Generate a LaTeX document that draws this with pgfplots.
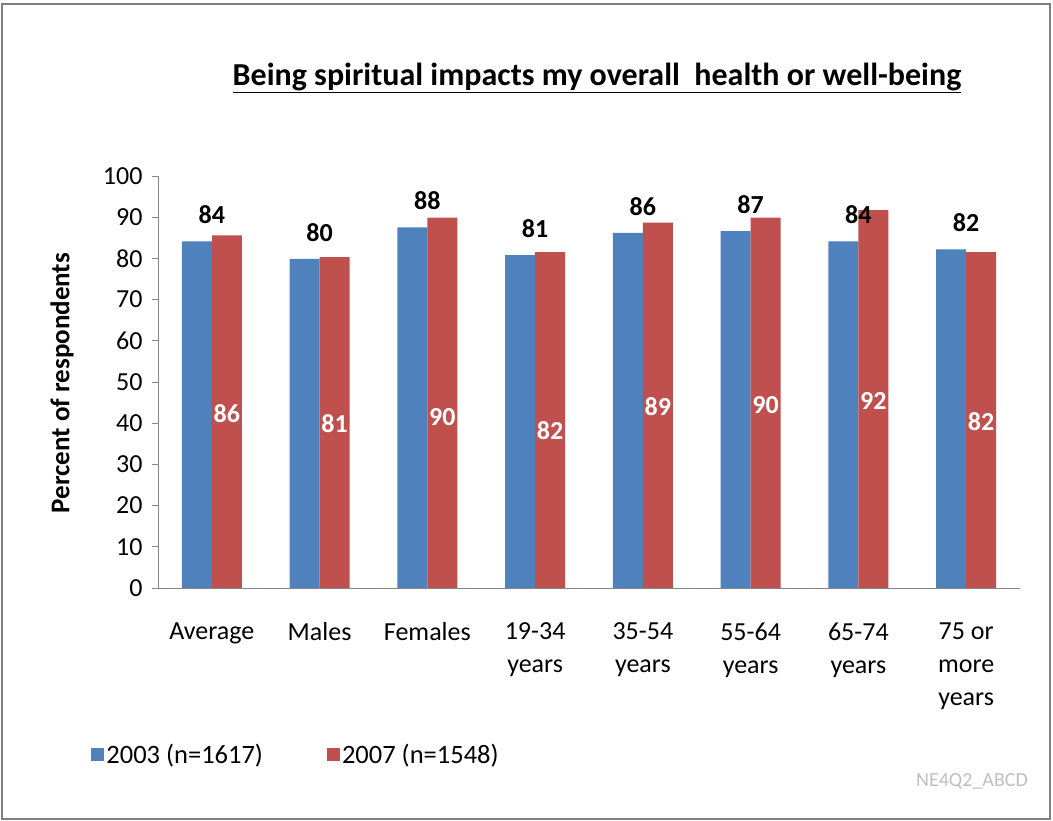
\documentclass[border=0pt]{standalone}
\usepackage{pgfplots}
\pgfplotsset{compat=1.18}
\usepackage{fontspec}
\setmainfont{Carlito}
\definecolor{cblue}{HTML}{4F81BD}
\definecolor{cred}{HTML}{C0504D}
\definecolor{axgray}{HTML}{868686}
\begin{document}
\begin{tikzpicture}[x=1pt,y=1pt]
\path[use as bounding box] (0,0) rectangle (1053,821);
\fill[white] (0,0) rectangle (1053,821);
\draw[gray,line width=1.5pt] (2,2) rectangle (1050,817);
\node[font=\fontsize{32}{38}\selectfont\bfseries] at (597,743) {\underline{Being spiritual impacts my overall\ \ health or well-being}};
\node[font=\fontsize{27}{32}\selectfont\bfseries,rotate=90] at (62,438) {Percent of respondents};
\node[font=\fontsize{20}{24}\selectfont,text=gray!50] at (972,40) {NE4Q2\_ABCD};
\begin{axis}[
  at={(158pt,233pt)}, anchor=south west,
  scale only axis, width=862pt, height=412pt,
  xmin=-0.5, xmax=7.5, ymin=0, ymax=100,
  axis lines*=left,
  axis line style={draw=axgray, line width=0.8pt, -},
  ytick={0,10,...,100},
  xtick={0,...,7},
  xticklabels={Average,Males,Females,19-34\\years,35-54\\years,55-64\\years,65-74\\years,75 or\\more\\years},
  xticklabel style={align=center, font=\fontsize{26}{33}\selectfont, yshift=-25pt},
  yticklabel style={font=\fontsize{26}{30}\selectfont, xshift=-6pt},
  /pgf/number format/assume math mode=true,
  x tick style={draw=none},
  y tick style={draw=axgray, line width=0.8pt},
  tick align=outside, major tick length=6pt,
  legend style={at={(-0.081,-0.405)}, anchor=west, draw=none, fill=none,
    legend columns=2, font=\fontsize{26.5}{30}\selectfont,
    /tikz/every even column/.style={column sep=62pt}},
  legend cell align=left,
]
\addplot[ybar, bar width=30pt, bar shift=-15pt, fill=cblue, draw=none,
  point meta=explicit symbolic, nodes near coords,
  every node near coord/.append style={anchor=center, yshift=26.5pt, font=\fontsize{26}{30}\selectfont\bfseries, text=black},
  legend image code/.code={\fill[cblue] (0pt,-6.5pt) rectangle (13pt,6.5pt);}]
  coordinates {(0,84.1)[84] (1,79.9)[80] (2,87.5)[88] (3,80.8)[81] (4,86.2)[86] (5,86.6)[87] (6,84.1)[84] (7,82.2)[82]};
\addlegendentry{2003 (n=1617)}
\addplot[ybar, bar width=30pt, bar shift=15pt, fill=cred, draw=none,
  legend image code/.code={\fill[cred] (0pt,-6.5pt) rectangle (13pt,6.5pt);}]
  coordinates {(0,85.6) (1,80.3) (2,89.9) (3,81.5) (4,88.7) (5,89.9) (6,91.7) (7,81.5)};
\addlegendentry{2007 (n=1548)}
\addplot[only marks, mark=none, forget plot,
  point meta=explicit symbolic, nodes near coords,
  every node near coord/.append style={anchor=center, font=\fontsize{26}{30}\selectfont\bfseries, text=white}]
  coordinates {(0.139,42.4)[86] (1.139,40.0)[81] (2.139,41.6)[90] (3.139,38.2)[82] (4.139,44.0)[89] (5.139,44.4)[90] (6.139,45.5)[92] (7.139,40.4)[82]};
\end{axis}
\end{tikzpicture}
\end{document}
